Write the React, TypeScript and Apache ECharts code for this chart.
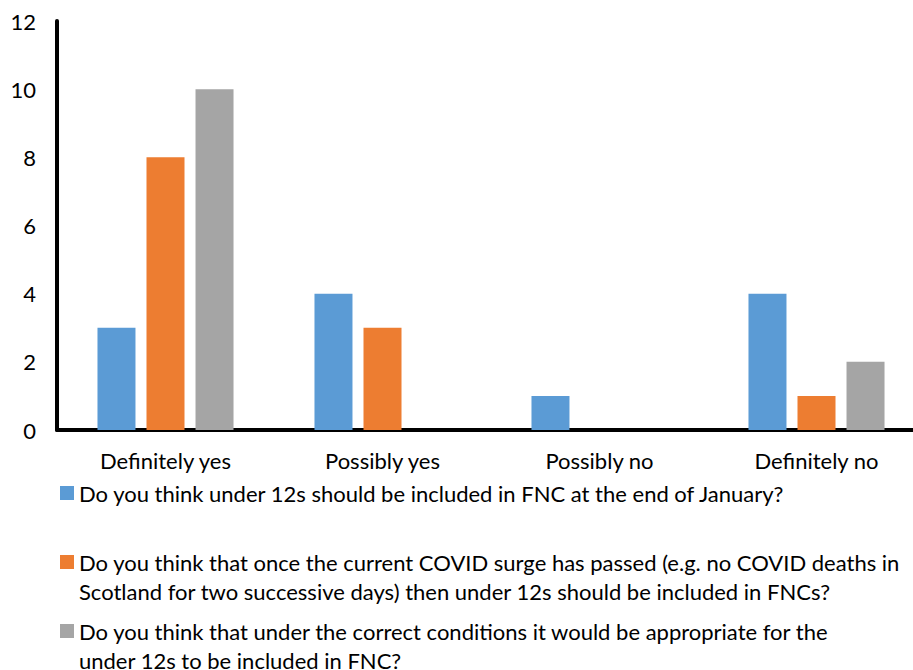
import React, { useEffect, useRef } from "react";
import * as echarts from "echarts";

const categories = ["Definitely yes", "Possibly yes", "Possibly no", "Definitely no"];
const seriesNames = [
  "Do you think under 12s should be included in FNC at the end of January?",
  "Do you think that once the current COVID surge has passed (e.g. no COVID deaths in Scotland for two successive days) then under 12s should be included in FNCs?",
  "Do you think that under the correct conditions it would be appropriate for the under 12s to be included in FNC?",
];
const legendLines = [
  ["Do you think under 12s should be included in FNC at the end of January?"],
  [
    "Do you think that once the current COVID surge has passed (e.g. no COVID deaths in",
    "Scotland for two successive days) then under 12s should be included in FNCs?",
  ],
  [
    "Do you think that under the correct conditions it would be appropriate for the",
    "under 12s to be included in FNC?",
  ],
];
const endOfJanuary = [3, 4, 1, 4];
const afterSurge = [8, 3, 0, 1];
const correctConditions = [10, 0, 0, 2];
const colors = ["#5B9BD5", "#ED7D31", "#A5A5A5"];

const FONT = "Lato";
const FS = 22;
const LH = 29;

export default function App() {
  const ref = useRef<HTMLDivElement>(null);
  useEffect(() => {
    if (!ref.current) return;
    const chart = echarts.init(ref.current, null, { renderer: "svg" });
    const values = [endOfJanuary, afterSurge, correctConditions];
    const iconCenters = [493, 562, 631];
    const mkLegend = (i: number) => {
      const lines = legendLines[i];
      // pad with blank lines at the top so the first line sits beside the icon
      const padded = lines.length > 1 ? ["", ...lines] : lines;
      const half = (padded.length * LH) / 2;
      return {
        left: 60,
        top: iconCenters[i] - half,
        orient: "vertical",
        data: [seriesNames[i]],
        icon: "rect",
        itemWidth: 14,
        itemHeight: 14,
        padding: 0,
        selectedMode: false,
        formatter: () => padded.join("\n"),
        textStyle: {
          fontFamily: FONT,
          fontSize: FS,
          color: "#000",
          lineHeight: LH,
        },
      };
    };
    chart.setOption({
      animation: false,
      textStyle: { fontFamily: FONT },
      grid: { left: 57, right: 0, top: 21, bottom: 240, containLabel: false },
      legend: [mkLegend(0), mkLegend(1), mkLegend(2)],
      xAxis: {
        type: "category",
        data: categories,
        axisLine: { show: true, lineStyle: { color: "#000", width: 4 } },
        axisTick: { show: false },
        axisLabel: { fontFamily: FONT, fontSize: FS, color: "#000", margin: 19 },
      },
      yAxis: {
        type: "value",
        min: 0,
        max: 12,
        interval: 2,
        axisLine: { show: true, lineStyle: { color: "#000", width: 4 } },
        axisTick: { show: false },
        splitLine: { show: false },
        axisLabel: { fontFamily: FONT, fontSize: FS, color: "#000", margin: 21 },
      },
      series: seriesNames.map((name, i) => ({
        name,
        type: "bar",
        data: values[i],
        barWidth: 38,
        barGap: "29%",
        itemStyle: { color: colors[i] },
      })),
    });
    return () => chart.dispose();
  }, []);
  return (
    <div style={{ width: 913, height: 670, position: "absolute", left: 0, top: 0, overflow: "hidden" }}>
      <div ref={ref} style={{ width: 925, height: 670 }} />
    </div>
  );
}
